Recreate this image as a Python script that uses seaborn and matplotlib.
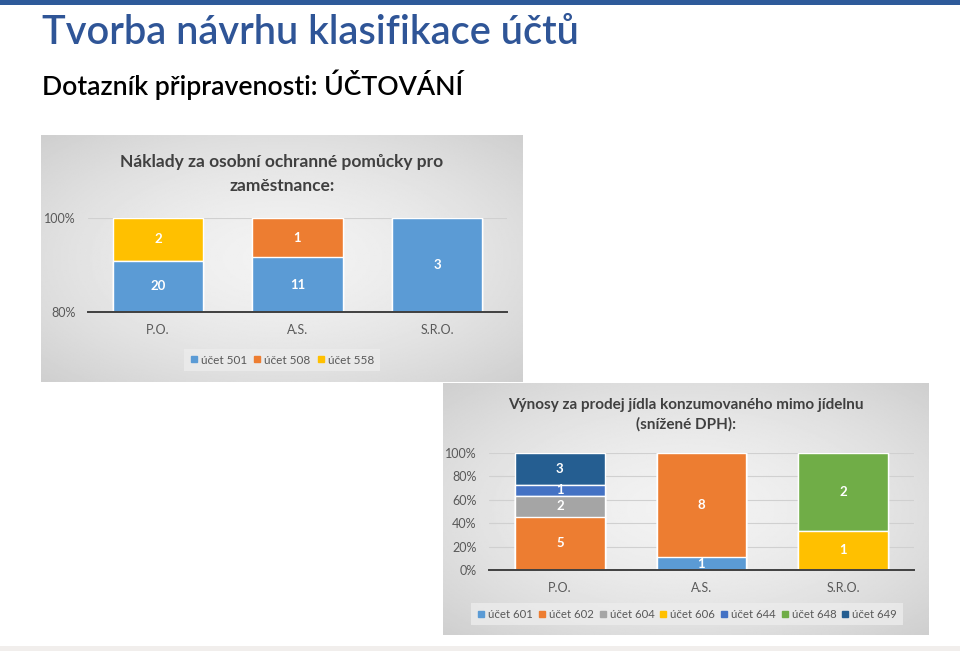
import numpy as np
import pandas as pd
import seaborn as sns
import matplotlib.pyplot as plt
from matplotlib.lines import Line2D
from matplotlib.ticker import PercentFormatter

W, H = 960, 651

CATEGORIES = ["P.O.", "A.S.", "S.R.O."]

# graf 1 - naklady za OOPP
ACCOUNTS_1 = ["účet 501", "účet 508", "účet 558"]
UCET_501 = [20, 11, 3]
UCET_508 = [0, 1, 0]
UCET_558 = [2, 0, 0]
COLORS_1 = ["#5B9BD5", "#ED7D31", "#FFC000"]

# graf 2 - vynosy za prodej jidla
ACCOUNTS_2 = ["účet 601", "účet 602", "účet 604", "účet 606", "účet 644", "účet 648", "účet 649"]
UCET_601 = [0, 1, 0]
UCET_602 = [5, 8, 0]
UCET_604 = [2, 0, 0]
UCET_606 = [0, 0, 1]
UCET_644 = [1, 0, 0]
UCET_648 = [0, 0, 2]
UCET_649 = [3, 0, 0]
COLORS_2 = ["#5B9BD5", "#ED7D31", "#A5A5A5", "#FFC000", "#4472C4", "#70AD47", "#255E91"]

TITLE_1 = "Náklady za osobní ochranné pomůcky pro\nzaměstnance:"
TITLE_2 = "Výnosy za prodej jídla konzumovaného mimo jídelnu\n(snížené DPH):"

sns.set_style("white")
plt.rcParams["font.family"] = ["Lato", "DejaVu Sans"]

TEXT_GREY = "#595959"


def box(x0, y0, x1, y1):
    return [x0 / W, 1 - y1 / H, (x1 - x0) / W, (y1 - y0) / H]


def panel(fig, rect):
    ax = fig.add_axes(box(*rect), zorder=0)
    yy, xx = np.mgrid[-1:1:200j, -1:1:300j]
    r = np.sqrt(xx ** 2 + yy ** 2) / np.sqrt(2)
    ax.imshow(0.95 - 0.14 * r ** 1.6, cmap="gray", vmin=0, vmax=1, aspect="auto")
    ax.axis("off")


def stacked(ax, table, colors, lo, ticks, width):
    shares = table.div(table.sum(axis=1), axis=0)
    cum = shares.cumsum(axis=1)
    cols = list(table.columns)
    for col, color in reversed(list(zip(cols, colors))):
        sns.barplot(x=CATEGORIES, y=cum[col].values, order=CATEGORIES, color=color,
                    saturation=1, width=width, edgecolor="white", linewidth=1, ax=ax)
    for i, cat in enumerate(CATEGORIES):
        for col in cols:
            v = table.loc[cat, col]
            if v:
                top = cum.loc[cat, col]
                bot = max(top - shares.loc[cat, col], lo)
                ax.text(i, (top + bot) / 2, str(v), ha="center", va="center",
                        color="white", fontsize=9.5, fontweight="bold")
    ax.set_xlim(-0.5, 2.5)
    ax.set_ylim(lo, 1.0)
    ax.set_yticks(ticks)
    ax.yaxis.set_major_formatter(PercentFormatter(1.0, decimals=0))
    ax.set_facecolor("none")
    for s in ["top", "right", "left"]:
        ax.spines[s].set_visible(False)
    ax.spines["bottom"].set_color("#404040")
    ax.spines["bottom"].set_linewidth(1.4)
    ax.grid(axis="y", color="#d0d0d0", linewidth=0.8)
    ax.set_axisbelow(True)
    ax.tick_params(axis="both", length=0, colors=TEXT_GREY, labelsize=9)
    ax.tick_params(axis="x", pad=9)
    ax.tick_params(axis="y", pad=9)
    ax.set_xlabel("")
    ax.set_ylabel("")


def legend(fig, labels, colors, center, size, spacing):
    handles = [Line2D([], [], marker="s", ls="", color=c, markersize=5, label=l)
               for l, c in zip(labels, colors)]
    leg = fig.legend(handles=handles, loc="center", bbox_to_anchor=(center[0] / W, 1 - center[1] / H),
                     ncol=len(labels), frameon=True, facecolor="#ececec", edgecolor="none",
                     fancybox=False, fontsize=size, labelcolor=TEXT_GREY, handletextpad=0.25,
                     columnspacing=spacing, handlelength=0.7, borderpad=0.5)
    leg.set_zorder(5)


fig = plt.figure(figsize=(W / 100, H / 100), dpi=100)
fig.patch.set_facecolor("white")

# slide header
fig.add_artist(plt.Rectangle((0, 1 - 5 / H), 1, 5 / H, transform=fig.transFigure,
                             color="#2E5A9A", lw=0))
fig.add_artist(plt.Rectangle((0, 0), 1, 5 / H, transform=fig.transFigure,
                             color="#f1eeec", lw=0))
fig.text(42 / W, 1 - 32 / H, "Tvorba návrhu klasifikace účtů", fontsize=28.6,
         fontweight="semibold", color="#2F5597", ha="left", va="center")
fig.text(42 / W, 1 - 85 / H, "Dotazník připravenosti: ÚČTOVÁNÍ", fontsize=19.2,
         fontweight="semibold", color="black", ha="left", va="center")

# chart 1
panel(fig, (41, 135, 522, 382))
t1 = pd.DataFrame({"účet 501": UCET_501, "účet 508": UCET_508, "účet 558": UCET_558},
                  index=CATEGORIES)
ax1 = fig.add_axes(box(88, 218, 507, 312), zorder=2)
stacked(ax1, t1, COLORS_1, 0.8, [0.8, 1.0], 0.645)
fig.text(282 / W, 1 - 174 / H, TITLE_1, fontsize=12.5, fontweight="bold", color="#404040",
         ha="center", va="center", linespacing=1.6, zorder=3)
legend(fig, ACCOUNTS_1, COLORS_1, (282, 360), 8.5, 0.5)

# chart 2
panel(fig, (443, 383, 929, 635))
t2 = pd.DataFrame({"účet 601": UCET_601, "účet 602": UCET_602, "účet 604": UCET_604,
                   "účet 606": UCET_606, "účet 644": UCET_644, "účet 648": UCET_648,
                   "účet 649": UCET_649}, index=CATEGORIES)
ax2 = fig.add_axes(box(489, 453, 914, 570), zorder=2)
stacked(ax2, t2, COLORS_2, 0.0, [0, 0.2, 0.4, 0.6, 0.8, 1.0], 0.635)
fig.text(686 / W, 1 - 415 / H, TITLE_2, fontsize=11, fontweight="bold", color="#404040",
         ha="center", va="center", linespacing=1.45, zorder=3)
legend(fig, ACCOUNTS_2, COLORS_2, (687, 614), 8.2, 0.45)

fig.savefig("out.png", dpi=100)
